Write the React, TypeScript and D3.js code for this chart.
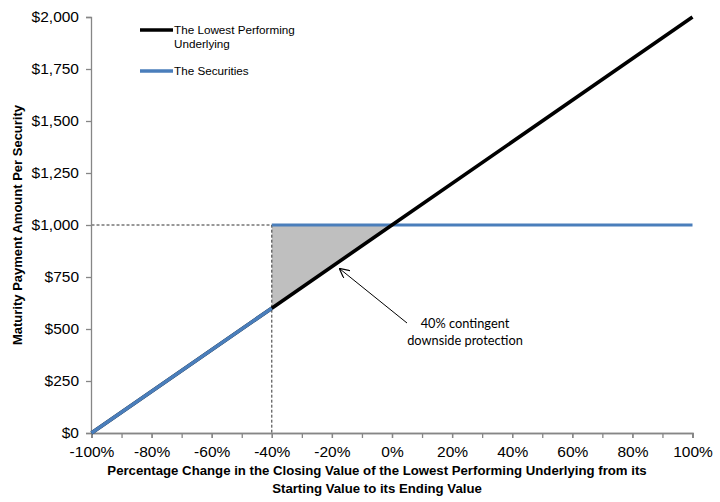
import * as d3 from 'd3';
import { useEffect, useRef } from 'react';

// underlying return vs payment (x as fraction, y in $)
const underlyingX = [-1, -0.4, 0, 1];
const underlyingY = [0, 600, 1000, 2000];
const securitiesLowX = [-1, -0.4];
const securitiesLowY = [0, 600];
const securitiesFlatX = [-0.4, 1];
const securitiesFlatY = [1000, 1000];
const protectionX = [-0.4, 0, -0.4];
const protectionY = [1000, 1000, 600];

const xTicks = [-1, -0.8, -0.6, -0.4, -0.2, 0, 0.2, 0.4, 0.6, 0.8, 1];
const xMinorTicks = [-1, -0.9, -0.8, -0.7, -0.6, -0.5, -0.4, -0.3, -0.2, -0.1, 0, 0.1, 0.2, 0.3, 0.4, 0.5, 0.6, 0.7, 0.8, 0.9, 1];
const yTicks = [0, 250, 500, 750, 1000, 1250, 1500, 1750, 2000];

const seriesNames = ['The Lowest Performing', 'Underlying', 'The Securities'];
const xTitle = ['Percentage Change in the Closing Value of the Lowest Performing Underlying from its', 'Starting Value to its Ending Value'];
const yTitle = 'Maturity Payment Amount Per Security';
const note = ['40% contingent', 'downside protection'];

const BLUE = '#4a7ebb';
const AXIS = '#868686';

const App = () => {
    const ref = useRef<SVGSVGElement>(null);

    useEffect(() => {
        drawChart();
    }, []);

    const drawChart = () => {
        const svg: any = d3.select(ref.current);
        svg.selectAll('*').remove();

        const x: any = d3.scaleLinear().domain([-1, 1]).range([91.5, 692.5]);
        const y: any = d3.scaleLinear().domain([0, 2000]).range([433, 17]);
        const font = 'Liberation Sans, Arial, sans-serif';

        const pts = (xs: number[], ys: number[]) => xs.map((v, i) => [v, ys[i]] as [number, number]);
        const line: any = d3.line<[number, number]>().x(d => x(d[0])).y(d => y(d[1]));

        // shaded protection zone
        svg.append('path')
            .attr('d', line(pts(protectionX, protectionY)) + 'Z')
            .attr('fill', '#bfbfbf');

        // dashed guides at -40% / $1,000
        svg.append('path')
            .attr('d', `M${x(-1)},${y(1000)}H${x(-0.4)}V${y(0)}`)
            .attr('fill', 'none')
            .attr('stroke', '#333')
            .attr('stroke-width', 1)
            .attr('stroke-dasharray', '3,2');

        // axes
        const yAxis = svg.append('g')
            .attr('transform', `translate(${x(-1) - 0.5},0)`)
            .call(d3.axisLeft(y).tickValues(yTicks).tickSize(5).tickPadding(7)
                .tickFormat((d: any) => '$' + d3.format(',')(d)));
        const xMinor = svg.append('g')
            .attr('transform', `translate(0,${y(0)})`)
            .call(d3.axisBottom(x).tickValues(xMinorTicks).tickSize(5).tickFormat(() => ''));
        const xAxis = svg.append('g')
            .attr('transform', `translate(0,${y(0)})`)
            .call(d3.axisBottom(x).tickValues(xTicks).tickSize(5).tickPadding(8)
                .tickFormat((d: any) => Math.round(d * 100) + '%'));
        [yAxis, xMinor, xAxis].forEach((g: any) => {
            g.selectAll('path, line').attr('stroke', AXIS).attr('stroke-width', 1.3);
            g.selectAll('text').attr('fill', '#000').style('font-family', font).style('font-size', '15.5px');
        });

        // series
        svg.append('path')
            .attr('d', line(pts(securitiesFlatX, securitiesFlatY)))
            .attr('fill', 'none').attr('stroke', BLUE).attr('stroke-width', 3.2);
        svg.append('path')
            .attr('d', line(pts(underlyingX, underlyingY)))
            .attr('fill', 'none').attr('stroke', '#000').attr('stroke-width', 3.6);
        svg.append('path')
            .attr('d', line(pts(securitiesLowX, securitiesLowY)))
            .attr('fill', 'none').attr('stroke', BLUE).attr('stroke-width', 3.6);

        // legend
        const legend = svg.append('g').style('font-family', font).style('font-size', '11.7px');
        legend.append('line').attr('x1', 140).attr('x2', 173).attr('y1', 30).attr('y2', 30)
            .attr('stroke', '#000').attr('stroke-width', 3.6);
        legend.append('text').attr('x', 174).attr('y', 34).text(seriesNames[0]);
        legend.append('text').attr('x', 174).attr('y', 48).text(seriesNames[1]);
        legend.append('line').attr('x1', 140).attr('x2', 173).attr('y1', 71).attr('y2', 71)
            .attr('stroke', BLUE).attr('stroke-width', 3.6);
        legend.append('text').attr('x', 174).attr('y', 75).text(seriesNames[2]);

        // annotation
        svg.append('defs').append('marker')
            .attr('id', 'arrow').attr('viewBox', '0 0 10 10').attr('refX', 9).attr('refY', 5)
            .attr('markerWidth', 10).attr('markerHeight', 10).attr('orient', 'auto')
            .attr('markerUnits', 'userSpaceOnUse')
            .append('path').attr('d', 'M0,0L10,5L0,10').attr('fill', 'none').attr('stroke', '#000').attr('stroke-width', 1.2);
        svg.append('line')
            .attr('x1', 407).attr('y1', 323).attr('x2', 340).attr('y2', 269)
            .attr('stroke', '#000').attr('stroke-width', 1).attr('marker-end', 'url(#arrow)');
        svg.append('g').style('font-family', 'Lato, Open Sans, sans-serif').style('font-size', '12.8px')
            .attr('text-anchor', 'middle')
            .selectAll('text').data(note).enter().append('text')
            .attr('x', 465).attr('y', (_d: any, i: number) => 328 + i * 16.5)
            .text((d: any) => d);

        // titles
        svg.append('g').style('font-family', font).style('font-size', '13.2px').style('font-weight', 700)
            .attr('text-anchor', 'middle')
            .selectAll('text').data(xTitle).enter().append('text')
            .attr('x', 377).attr('y', (_d: any, i: number) => 475 + i * 18)
            .text((d: any) => d);
        svg.append('text')
            .attr('transform', `translate(22,${(y(0) + y(2000)) / 2}) rotate(-90)`)
            .attr('text-anchor', 'middle')
            .style('font-family', font).style('font-size', '13px').style('font-weight', 700)
            .text(yTitle);
    };

    return (
        <svg ref={ref} width={720} height={502}
            style={{ position: 'absolute', left: 0, top: 0, background: '#fff' }} />
    );
};

export default App;
